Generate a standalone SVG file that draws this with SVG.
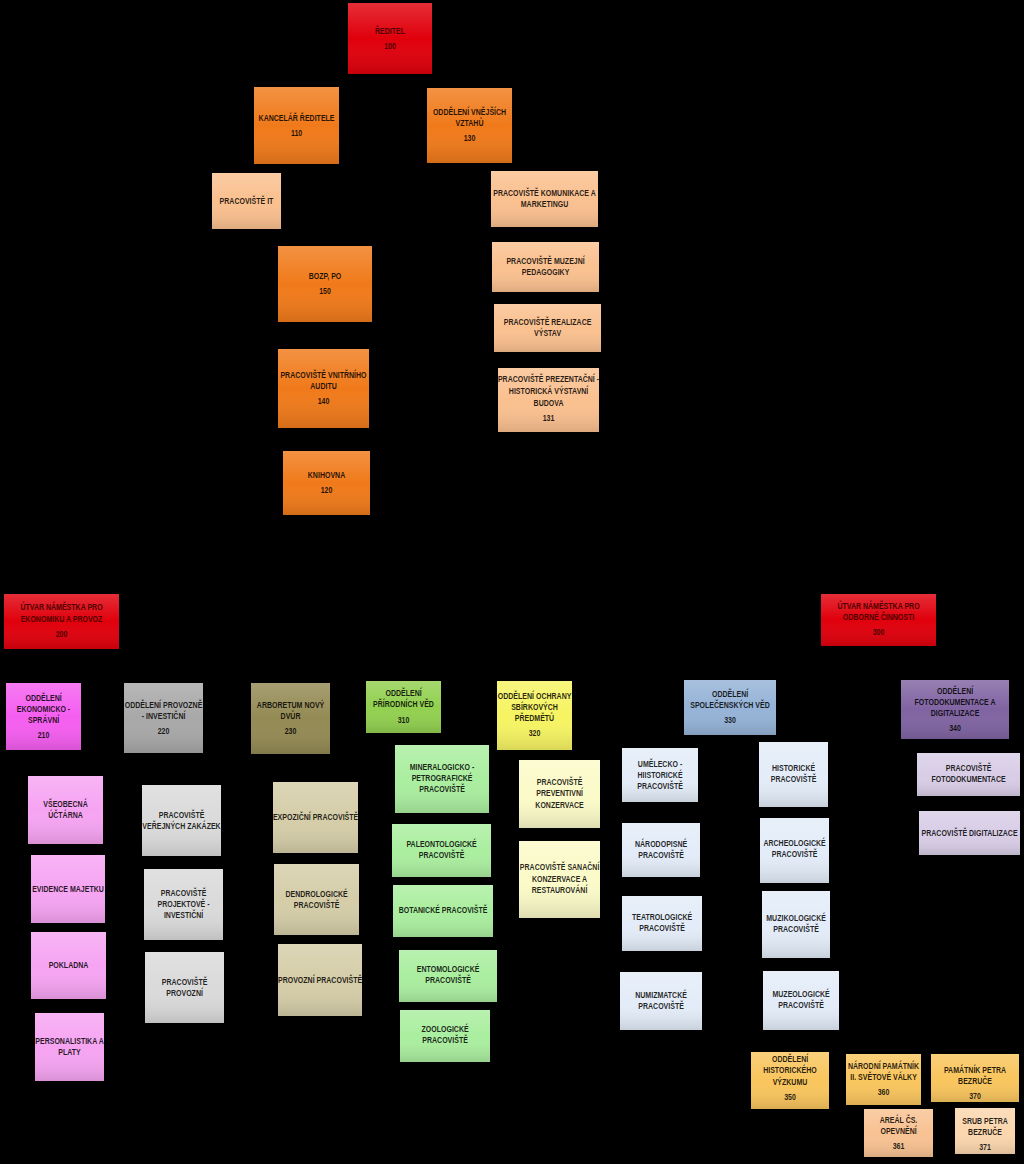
<svg xmlns="http://www.w3.org/2000/svg" width="1024" height="1164" viewBox="0 0 1024 1164">
<defs>
<linearGradient id="shade" x1="0" y1="0" x2="0" y2="1">
<stop offset="0" stop-color="#fff" stop-opacity="0.18"/>
<stop offset="0.5" stop-color="#fff" stop-opacity="0"/>
<stop offset="1" stop-color="#000" stop-opacity="0.12"/>
</linearGradient>
<style>
text{font-family:"Liberation Sans",Arial,sans-serif;font-weight:bold;font-size:9px;text-anchor:middle;fill:#000;fill-opacity:0.85;transform:scaleX(0.78);transform-box:fill-box;transform-origin:center}
.sh{fill:url(#shade)}
.rt{fill:#500000;fill-opacity:1}
.red{fill:#e0000c}
.org{fill:#f07a1a}.pch{fill:#fac08f}
.mag{fill:#f55ef0}.pnk{fill:#f6a4f2}
.gry{fill:#a8a8a8}.lgr{fill:#dadada}
.olv{fill:#948a54}.tan{fill:#d5cda8}
.grn{fill:#92d050}.lgn{fill:#aaee9f}
.yel{fill:#f6f462}.lye{fill:#fbfac8}
.blu{fill:#95b3d7}.lbl{fill:#e3ecf8}
.pur{fill:#8064a2}.lpu{fill:#d8cde6}
.gld{fill:#f9c55d}.pe1{fill:#f8c292}.pe2{fill:#fbd6ae}
</style>
</defs>
<rect x="0" y="0" width="1024" height="1164" fill="#000"/>
<g id="connectors"/>

<g id="n100"><rect class="red" x="348" y="3" width="84" height="71"/><rect class="sh" x="348" y="3" width="84" height="71"/><text class="rt" x="390" y="34">ŘEDITEL</text><text class="rt" x="390" y="49">100</text></g>
<g id="n110"><rect class="org" x="254" y="87" width="85" height="77"/><rect class="sh" x="254" y="87" width="85" height="77"/><text x="296.5" y="121">KANCELÁŘ ŘEDITELE</text><text x="296.5" y="136">110</text></g>
<g id="n130"><rect class="org" x="427" y="88" width="85" height="75"/><rect class="sh" x="427" y="88" width="85" height="75"/><text x="469.5" y="115">ODDĚLENÍ VNĚJŠÍCH</text><text x="469.5" y="126">VZTAHŮ</text><text x="469.5" y="141.5">130</text></g>
<g id="nIT"><rect class="pch" x="212" y="173" width="69" height="56"/><rect class="sh" x="212" y="173" width="69" height="56"/><text x="246.5" y="204">PRACOVIŠTĚ IT</text></g>
<g id="nKom"><rect class="pch" x="491" y="171" width="107" height="56"/><rect class="sh" x="491" y="171" width="107" height="56"/><text x="544.5" y="196.5">PRACOVIŠTĚ KOMUNIKACE A</text><text x="544.5" y="207.5">MARKETINGU</text></g>
<g id="n150"><rect class="org" x="278" y="246" width="94" height="76"/><rect class="sh" x="278" y="246" width="94" height="76"/><text x="325" y="279.5">BOZP, PO</text><text x="325" y="294.5">150</text></g>
<g id="nPed"><rect class="pch" x="492" y="242" width="107" height="50"/><rect class="sh" x="492" y="242" width="107" height="50"/><text x="545.5" y="264.5">PRACOVIŠTĚ MUZEJNÍ</text><text x="545.5" y="275.5">PEDAGOGIKY</text></g>
<g id="nReal"><rect class="pch" x="494" y="304" width="107" height="48"/><rect class="sh" x="494" y="304" width="107" height="48"/><text x="547.5" y="325.5">PRACOVIŠTĚ REALIZACE</text><text x="547.5" y="336.5">VÝSTAV</text></g>
<g id="n140"><rect class="org" x="278" y="349" width="91" height="79"/><rect class="sh" x="278" y="349" width="91" height="79"/><text x="323.5" y="378.5">PRACOVIŠTĚ VNITŘNÍHO</text><text x="323.5" y="389.5">AUDITU</text><text x="323.5" y="404.5">140</text></g>
<g id="n131"><rect class="pch" x="498" y="368" width="101" height="64"/><rect class="sh" x="498" y="368" width="101" height="64"/><text x="548.5" y="382">PRACOVIŠTĚ PREZENTAČNÍ -</text><text x="548.5" y="394">HISTORICKÁ VÝSTAVNÍ</text><text x="548.5" y="406">BUDOVA</text><text x="548.5" y="421">131</text></g>
<g id="n120"><rect class="org" x="283" y="451" width="87" height="64"/><rect class="sh" x="283" y="451" width="87" height="64"/><text x="326.5" y="478.5">KNIHOVNA</text><text x="326.5" y="493.5">120</text></g>

<g id="n200"><rect class="red" x="4" y="594" width="115" height="55"/><rect class="sh" x="4" y="594" width="115" height="55"/><text class="rt" x="61.5" y="610">ÚTVAR NÁMĚSTKA PRO</text><text class="rt" x="61.5" y="622">EKONOMIKU A PROVOZ</text><text class="rt" x="61.5" y="637">200</text></g>
<g id="n300"><rect class="red" x="821" y="594" width="115" height="52"/><rect class="sh" x="821" y="594" width="115" height="52"/><text class="rt" x="878.5" y="609">ÚTVAR NÁMĚSTKA PRO</text><text class="rt" x="878.5" y="620">ODBORNÉ ČINNOSTI</text><text class="rt" x="878.5" y="635.5">300</text></g>

<g id="n210"><rect class="mag" x="6" y="683" width="75" height="67"/><rect class="sh" x="6" y="683" width="75" height="67"/><text x="43.5" y="701">ODDĚLENÍ</text><text x="43.5" y="712">EKONOMICKO -</text><text x="43.5" y="723">SPRÁVNÍ</text><text x="43.5" y="738">210</text></g>
<g id="n220"><rect class="gry" x="124" y="683" width="79" height="70"/><rect class="sh" x="124" y="683" width="79" height="70"/><text x="163.5" y="708">ODDĚLENÍ PROVOZNĚ</text><text x="163.5" y="719">- INVESTIČNÍ</text><text x="163.5" y="734">220</text></g>
<g id="n230"><rect class="olv" x="251" y="683" width="79" height="71"/><rect class="sh" x="251" y="683" width="79" height="71"/><text x="290.5" y="708.5">ARBORETUM NOVÝ</text><text x="290.5" y="719.5">DVŮR</text><text x="290.5" y="734.5">230</text></g>
<g id="n310"><rect class="grn" x="366" y="681" width="75" height="52"/><rect class="sh" x="366" y="681" width="75" height="52"/><text x="403.5" y="696.5">ODDĚLENÍ</text><text x="403.5" y="707.5">PŘÍRODNÍCH VĚD</text><text x="403.5" y="723">310</text></g>
<g id="n320"><rect class="yel" x="497" y="681" width="75" height="69"/><rect class="sh" x="497" y="681" width="75" height="69"/><text x="534.5" y="699">ODDĚLENÍ OCHRANY</text><text x="534.5" y="710.5">SBÍRKOVÝCH</text><text x="534.5" y="721.5">PŘEDMĚTŮ</text><text x="534.5" y="736">320</text></g>
<g id="n330"><rect class="blu" x="684" y="680" width="92" height="55"/><rect class="sh" x="684" y="680" width="92" height="55"/><text x="730" y="697.5">ODDĚLENÍ</text><text x="730" y="708.5">SPOLEČENSKÝCH VĚD</text><text x="730" y="723.5">330</text></g>
<g id="n340"><rect class="pur" x="901" y="680" width="108" height="59"/><rect class="sh" x="901" y="680" width="108" height="59"/><text x="955" y="694">ODDĚLENÍ</text><text x="955" y="705">FOTODOKUMENTACE A</text><text x="955" y="716">DIGITALIZACE</text><text x="955" y="731">340</text></g>

<g id="n211"><rect class="pnk" x="28" y="776" width="75" height="68"/><rect class="sh" x="28" y="776" width="75" height="68"/><text x="65.5" y="807.5">VŠEOBECNÁ</text><text x="65.5" y="818.5">ÚČTÁRNA</text></g>
<g id="n212"><rect class="pnk" x="31" y="855" width="74" height="68"/><rect class="sh" x="31" y="855" width="74" height="68"/><text x="68" y="892">EVIDENCE MAJETKU</text></g>
<g id="n213"><rect class="pnk" x="31" y="932" width="75" height="67"/><rect class="sh" x="31" y="932" width="75" height="67"/><text x="68.5" y="968.5">POKLADNA</text></g>
<g id="n214"><rect class="pnk" x="35" y="1013" width="69" height="68"/><rect class="sh" x="35" y="1013" width="69" height="68"/><text x="69.5" y="1044.5">PERSONALISTIKA A</text><text x="69.5" y="1055.5">PLATY</text></g>

<g id="n221"><rect class="lgr" x="142" y="785" width="79" height="71"/><rect class="sh" x="142" y="785" width="79" height="71"/><text x="181.5" y="818">PRACOVIŠTĚ</text><text x="181.5" y="829">VEŘEJNÝCH ZAKÁZEK</text></g>
<g id="n222"><rect class="lgr" x="144" y="869" width="79" height="71"/><rect class="sh" x="144" y="869" width="79" height="71"/><text x="183.5" y="896.5">PRACOVIŠTĚ</text><text x="183.5" y="907.5">PROJEKTOVĚ -</text><text x="183.5" y="918.5">INVESTIČNÍ</text></g>
<g id="n223"><rect class="lgr" x="145" y="952" width="79" height="71"/><rect class="sh" x="145" y="952" width="79" height="71"/><text x="184.5" y="985">PRACOVIŠTĚ</text><text x="184.5" y="996">PROVOZNÍ</text></g>

<g id="n231"><rect class="tan" x="273" y="782" width="85" height="71"/><rect class="sh" x="273" y="782" width="85" height="71"/><text x="315.5" y="820.5">EXPOZIČNÍ PRACOVIŠTĚ</text></g>
<g id="n232"><rect class="tan" x="274" y="864" width="85" height="71"/><rect class="sh" x="274" y="864" width="85" height="71"/><text x="316.5" y="897">DENDROLOGICKÉ</text><text x="316.5" y="908">PRACOVIŠTĚ</text></g>
<g id="n233"><rect class="tan" x="278" y="944" width="84" height="72"/><rect class="sh" x="278" y="944" width="84" height="72"/><text x="320" y="983">PROVOZNÍ PRACOVIŠTĚ</text></g>

<g id="n311"><rect class="lgn" x="395" y="745" width="94" height="68"/><rect class="sh" x="395" y="745" width="94" height="68"/><text x="442" y="770">MINERALOGICKO -</text><text x="442" y="781">PETROGRAFICKÉ</text><text x="442" y="792">PRACOVIŠTĚ</text></g>
<g id="n312"><rect class="lgn" x="392" y="824" width="99" height="53"/><rect class="sh" x="392" y="824" width="99" height="53"/><text x="441.5" y="847">PALEONTOLOGICKÉ</text><text x="441.5" y="858">PRACOVIŠTĚ</text></g>
<g id="n313"><rect class="lgn" x="393" y="885" width="100" height="52"/><rect class="sh" x="393" y="885" width="100" height="52"/><text x="443" y="913">BOTANICKÉ PRACOVIŠTĚ</text></g>
<g id="n314"><rect class="lgn" x="399" y="950" width="98" height="52"/><rect class="sh" x="399" y="950" width="98" height="52"/><text x="448" y="972.5">ENTOMOLOGICKÉ</text><text x="448" y="983.5">PRACOVIŠTĚ</text></g>
<g id="n315"><rect class="lgn" x="400" y="1010" width="90" height="52"/><rect class="sh" x="400" y="1010" width="90" height="52"/><text x="445" y="1032.5">ZOOLOGICKÉ</text><text x="445" y="1043.5">PRACOVIŠTĚ</text></g>

<g id="n321"><rect class="lye" x="519" y="760" width="81" height="68"/><rect class="sh" x="519" y="760" width="81" height="68"/><text x="559.5" y="785">PRACOVIŠTĚ</text><text x="559.5" y="796.5">PREVENTIVNÍ</text><text x="559.5" y="808">KONZERVACE</text></g>
<g id="n322"><rect class="lye" x="519" y="841" width="81" height="77"/><rect class="sh" x="519" y="841" width="81" height="77"/><text x="559.5" y="870.5">PRACOVIŠTĚ SANAČNÍ</text><text x="559.5" y="882">KONZERVACE A</text><text x="559.5" y="893.5">RESTAUROVÁNÍ</text></g>

<g id="n331"><rect class="lbl" x="622" y="748" width="76" height="54"/><rect class="sh" x="622" y="748" width="76" height="54"/><text x="660" y="767">UMĚLECKO -</text><text x="660" y="778">HIISTORICKÉ</text><text x="660" y="789">PRACOVIŠTĚ</text></g>
<g id="n332"><rect class="lbl" x="622" y="823" width="78" height="54"/><rect class="sh" x="622" y="823" width="78" height="54"/><text x="661" y="847.5">NÁRODOPISNÉ</text><text x="661" y="858.5">PRACOVIŠTĚ</text></g>
<g id="n333"><rect class="lbl" x="622" y="896" width="80" height="55"/><rect class="sh" x="622" y="896" width="80" height="55"/><text x="662" y="920">TEATROLOGICKÉ</text><text x="662" y="931">PRACOVIŠTĚ</text></g>
<g id="n334"><rect class="lbl" x="620" y="972" width="82" height="58"/><rect class="sh" x="620" y="972" width="82" height="58"/><text x="661" y="998">NUMIZMATCKÉ</text><text x="661" y="1009">PRACOVIŠTĚ</text></g>
<g id="n335"><rect class="lbl" x="759" y="742" width="69" height="65"/><rect class="sh" x="759" y="742" width="69" height="65"/><text x="793.5" y="771">HISTORICKÉ</text><text x="793.5" y="782">PRACOVIŠTĚ</text></g>
<g id="n336"><rect class="lbl" x="760" y="818" width="69" height="65"/><rect class="sh" x="760" y="818" width="69" height="65"/><text x="794.5" y="846.5">ARCHEOLOGICKÉ</text><text x="794.5" y="857.5">PRACOVIŠTĚ</text></g>
<g id="n337"><rect class="lbl" x="762" y="891" width="68" height="67"/><rect class="sh" x="762" y="891" width="68" height="67"/><text x="796" y="921">MUZIKOLOGICKÉ</text><text x="796" y="932">PRACOVIŠTĚ</text></g>
<g id="n338"><rect class="lbl" x="763" y="971" width="76" height="59"/><rect class="sh" x="763" y="971" width="76" height="59"/><text x="801" y="997">MUZEOLOGICKÉ</text><text x="801" y="1008">PRACOVIŠTĚ</text></g>

<g id="n341"><rect class="lpu" x="917" y="753" width="103" height="43"/><rect class="sh" x="917" y="753" width="103" height="43"/><text x="968.5" y="771.5">PRACOVIŠTĚ</text><text x="968.5" y="782.5">FOTODOKUMENTACE</text></g>
<g id="n342"><rect class="lpu" x="919" y="811" width="101" height="44"/><rect class="sh" x="919" y="811" width="101" height="44"/><text x="969.5" y="836">PRACOVIŠTĚ DIGITALIZACE</text></g>

<g id="n350"><rect class="gld" x="751" y="1052" width="78" height="57"/><rect class="sh" x="751" y="1052" width="78" height="57"/><text x="790" y="1062">ODDĚLENÍ</text><text x="790" y="1073.5">HISTORICKÉHO</text><text x="790" y="1085">VÝZKUMU</text><text x="790" y="1100">350</text></g>
<g id="n360"><rect class="gld" x="846" y="1054" width="75" height="51"/><rect class="sh" x="846" y="1054" width="75" height="51"/><text x="883.5" y="1069">NÁRODNÍ PAMÁTNÍK</text><text x="883.5" y="1080.5">II. SVĚTOVÉ VÁLKY</text><text x="883.5" y="1095">360</text></g>
<g id="n370"><rect class="gld" x="931" y="1054" width="88" height="48"/><rect class="sh" x="931" y="1054" width="88" height="48"/><text x="975" y="1073">PAMÁTNÍK PETRA</text><text x="975" y="1084.5">BEZRUČE</text><text x="975" y="1099.5">370</text></g>
<g id="n361"><rect class="pe1" x="864" y="1109" width="69" height="48"/><rect class="sh" x="864" y="1109" width="69" height="48"/><text x="898.5" y="1123">AREÁL ČS.</text><text x="898.5" y="1134.5">OPEVNĚNÍ</text><text x="898.5" y="1149.5">361</text></g>
<g id="n371"><rect class="pe2" x="955" y="1108" width="60" height="46"/><rect class="sh" x="955" y="1108" width="60" height="46"/><text x="985" y="1124">SRUB PETRA</text><text x="985" y="1135.5">BEZRUČE</text><text x="985" y="1150.5">371</text></g>
</svg>
